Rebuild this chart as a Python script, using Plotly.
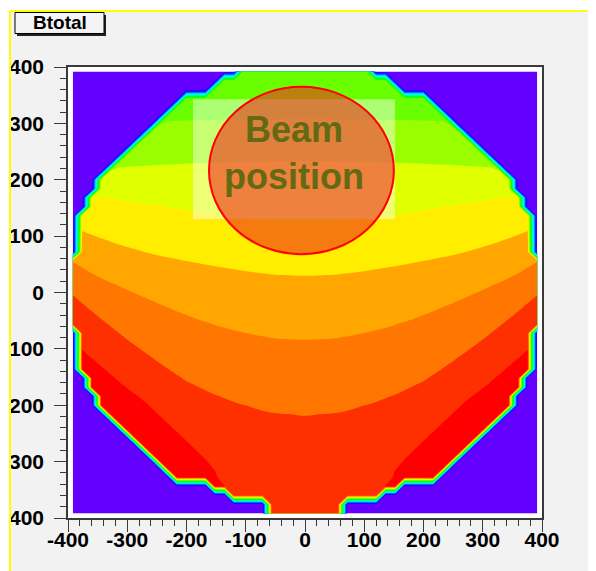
import colorsys
import numpy as np
import plotly.graph_objects as go

# ---------------- data ----------------
# histogram bin centres (both axes)
bin_centers = list(range(-392, 393, 16))

# half-width |x| of the non-empty region for each bin row (rows ascending in y)
row_halfwidth = [56, 56, 120, 152, 216, 232, 248, 264, 280, 296,
                 312, 328, 344, 344, 360, 360, 376, 376, 376, 376,
                 376, 392, 392, 392, 392, 392, 392, 392, 392, 376,
                 376, 376, 376, 376, 360, 360, 344, 344, 328, 312,
                 296, 280, 264, 248, 232, 216, 200, 152, 136, 104]

# contour boundaries: y position of each level at |x| = col_x
col_x = [0, 50, 100, 150, 200, 250, 300, 350, 392]
contour_levels = [13, 14, 15, 16, 17, 18, 19]
boundary_13 = [302, 301, 300, 300, 299, 298, 297, 296, 295]
boundary_14 = [233, 233, 232, 231, 229, 226, 222, 218, 214]
boundary_15 = [124, 126, 129, 136, 146, 155, 163, 171, 178]
boundary_16 = [30, 32, 38, 47, 56, 66, 80, 98, 116]
boundary_17 = [-84, -81, -72, -58, -40, -18, 5, 28, 54]
boundary_18 = [-218, -213, -200, -182, -158, -122, -84, -42, -4]
boundary_19 = [-520, -470, -400, -315, -261, -213, -165, -117, -80]
top_level, top_anchor_y = 12.0, 700
bottom_level, bottom_anchor_y = 19.98, -900

x_tick_vals = [-400, -300, -200, -100, 0, 100, 200, 300, 400]
x_tick_text = ["-400", "-300", "-200", "-100", "0", "100", "200", "300", "400"]
y_tick_vals = [-400, -300, -200, -100, 0, 100, 200, 300, 400]
y_tick_text = ["400", "300", "200", "100", "0", "100", "200", "300", "400"]

# beam overlay (data coordinates)
beam_box_x = [-189, 152]
beam_box_y = [130, 343]
beam_circle_x = [-162, 150]
beam_circle_y = [68, 365]
beam_label = "Beam<br>position"
title_text = "Btotal"

# ---------------- build field ----------------
xs = np.array(bin_centers, dtype=float)
boundaries = [boundary_13, boundary_14, boundary_15, boundary_16,
              boundary_17, boundary_18, boundary_19]
z = np.zeros((len(xs), len(xs)))
for j, x in enumerate(xs):
    ys_at = [float(np.interp(abs(x), col_x, b)) for b in boundaries]
    yy = np.array([top_anchor_y] + ys_at + [bottom_anchor_y])
    vv = np.array([top_level] + contour_levels + [bottom_level])
    for i, y in enumerate(xs):
        if abs(x) <= row_halfwidth[i]:
            z[i, j] = np.interp(-y, -yy, vv)

# ROOT "pretty" palette: 50 HLS colours, 20 contour bands
palette = []
for k in range(20):
    idx = int((k + 0.99) * 50 / 20)
    hue = 280 - (idx + 1) * 5.6
    r, g, b = colorsys.hls_to_rgb(hue / 360.0, 0.5, 1.0)
    palette.append("rgb(%d,%d,%d)" % (round(r * 255), round(g * 255), round(b * 255)))
colorscale = [[k / 19.0, c] for k, c in enumerate(palette)]

fig = go.Figure()
fig.add_trace(go.Contour(
    x=xs, y=xs, z=z,
    autocontour=False,
    contours=dict(start=1, end=19, size=1, coloring="fill", showlines=False),
    colorscale=colorscale, showscale=False,
    line=dict(width=0, smoothing=0),
    hoverinfo="skip",
))

# page has an 8px body margin: figure origin sits at page (8, 8)
OFF = 8
W, H = 596, 571
L, R, T, B = 60, 62, 59, 61
pw, ph = W - L - R, H - T - B


def px(xp):
    return (xp - OFF - L) / pw


def py(yp):
    return (H - B - (yp - OFF)) / ph


shapes = [
    # white outside the canvas border
    dict(type="rect", xref="paper", yref="paper", x0=px(0), x1=px(10), y0=py(H + 10), y1=py(0),
         fillcolor="white", line=dict(width=0), layer="below"),
    dict(type="rect", xref="paper", yref="paper", x0=px(0), x1=px(W + 10), y0=py(11), y1=py(0),
         fillcolor="white", line=dict(width=0), layer="below"),
    dict(type="line", xref="paper", yref="paper", x0=px(10), x1=px(10), y0=py(11), y1=py(H + 10),
         line=dict(color="#ffff00", width=2)),
    dict(type="line", xref="paper", yref="paper", x0=px(10), x1=px(W + 10), y0=py(11), y1=py(11),
         line=dict(color="#ffff00", width=2)),
    # title box with shadow
    dict(type="rect", xref="paper", yref="paper", x0=px(17), x1=px(106), y0=py(36), y1=py(15),
         fillcolor="#222222", line=dict(width=0)),
    dict(type="rect", xref="paper", yref="paper", x0=px(15), x1=px(104), y0=py(33.5), y1=py(12.5),
         fillcolor="#f4f4f4", line=dict(color="black", width=1)),
    # beam overlay
    dict(type="rect", xref="x", yref="y", x0=beam_box_x[0], x1=beam_box_x[1],
         y0=beam_box_y[0], y1=beam_box_y[1],
         fillcolor="rgba(255,255,255,0.45)", line=dict(width=0)),
    dict(type="circle", xref="x", yref="y", x0=beam_circle_x[0], x1=beam_circle_x[1],
         y0=beam_circle_y[0], y1=beam_circle_y[1],
         fillcolor="rgba(238,45,25,0.6)", line=dict(color="#ff0000", width=2)),
]

annotations = [
    dict(text="<b>%s</b>" % title_text, xref="paper", yref="paper", x=px(59.5), y=py(23),
         xanchor="center", yanchor="middle", showarrow=False,
         font=dict(family="Liberation Sans, Arial", size=19, color="black")),
    dict(text="<b>%s</b>" % beam_label, xref="x", yref="y", x=-18, y=248,
         xanchor="center", yanchor="middle", showarrow=False, align="center",
         font=dict(family="Liberation Sans, Arial", size=36, color="rgb(100,105,20)")),
]

axis_common = dict(
    range=[-400, 400], showgrid=False, zeroline=False,
    showline=True, mirror=True, linecolor="#3a3a3a", linewidth=1.5,
    ticks="outside", ticklen=12, tickwidth=1, tickcolor="#3a3a3a",
    minor=dict(ticks="outside", ticklen=6, dtick=20, tickwidth=1, tickcolor="#3a3a3a"),
    tickfont=dict(family="Liberation Sans, Arial", size=21, color="black", weight="bold"),
    automargin=False, fixedrange=True,
)

fig.update_layout(
    width=W, height=H,
    margin=dict(l=L, r=R, t=T, b=B, pad=0),
    paper_bgcolor="#f2f2f2", plot_bgcolor="white",
    xaxis=dict(axis_common, tickvals=x_tick_vals, ticktext=x_tick_text, ticklabelstandoff=-10),
    yaxis=dict(axis_common, tickvals=y_tick_vals, ticktext=y_tick_text, ticklabelstandoff=6),
    shapes=shapes, annotations=annotations, showlegend=False,
)

fig.write_html("out.html")
